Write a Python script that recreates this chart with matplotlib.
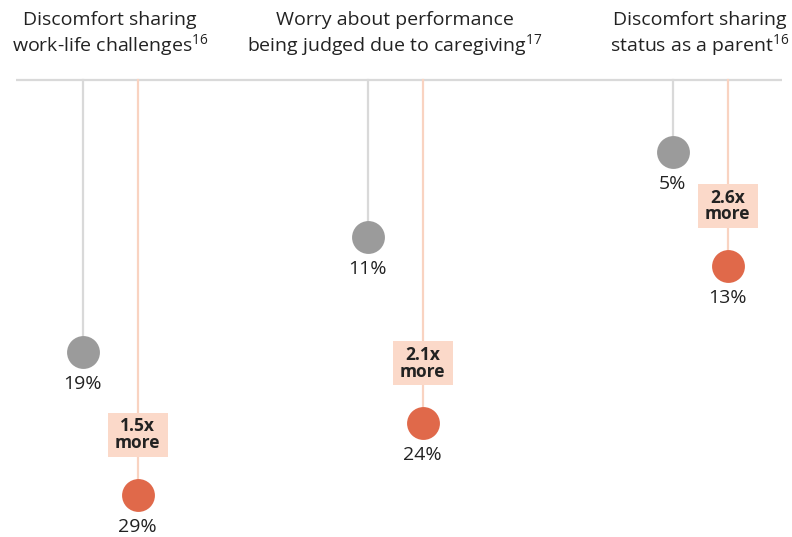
import numpy as np
import matplotlib.pyplot as plt
from matplotlib.patches import Rectangle

plt.rcParams['font.family'] = ['Open Sans', 'DejaVu Sans']
plt.rcParams['mathtext.fontset'] = 'custom'
plt.rcParams['mathtext.rm'] = 'Open Sans'

titles = ['Discomfort sharing\nwork-life challenges',
          'Worry about performance\nbeing judged due to caregiving',
          'Discomfort sharing\nstatus as a parent']
notes = ['16', '17', '16']
gray_vals = [19, 11, 5]
orange_vals = [29, 24, 13]
ratios = ['1.5x', '2.1x', '2.6x']

GRAY = '#9b9b9b'
GRAY_LINE = '#d9d9d9'
ORANGE = '#e0694a'
ORANGE_LINE = '#f9d3c1'
BADGE = '#fbd9c9'
TXT = '#222222'

W, H = 792, 537
ppu = 14.3          # pixels per percentage point
y0 = 80             # pixel row of the 0 line
centers = [110, 395, 700]
off = 27.5

fig = plt.figure(figsize=(W / 100, H / 100), dpi=100)
ax = fig.add_axes([0, 0, 1, 1])
ax.set_xlim(0, W)
ax.set_ylim((H - y0) / ppu, -y0 / ppu)
ax.axis('off')

ax.plot([16, 782], [0, 0], color=GRAY_LINE, lw=1.6, zorder=1, solid_capstyle='butt')

for i, c in enumerate(centers):
    gx, ox = c - off, c + off
    g, o = gray_vals[i], orange_vals[i]
    ax.plot([gx, gx], [0, g], color=GRAY_LINE, lw=1.6, zorder=1)
    ax.plot([ox, ox], [0, o], color=ORANGE_LINE, lw=1.6, zorder=1)
    ax.scatter([gx], [g], s=560, color=GRAY, zorder=3, linewidths=0)
    ax.scatter([ox], [o], s=560, color=ORANGE, zorder=3, linewidths=0)
    ax.text(gx, g + 32 / ppu, f'{g}%', ha='center', va='center', fontsize=14, color=TXT)
    ax.text(ox, o + 32 / ppu, f'{o}%', ha='center', va='center', fontsize=14, color=TXT)

    by = o - 60 / ppu
    bh = 44 / ppu
    ax.add_patch(Rectangle((ox - 30, by - bh / 2), 60, bh, color=BADGE, zorder=2, lw=0))
    ax.text(ox, by, ratios[i] + '\nmore', ha='center', va='center', fontsize=12.5,
            fontweight='bold', color=TXT, linespacing=0.9, zorder=4)

    l1, l2 = titles[i].split('\n')
    ax.text(c, -60 / ppu, l1, ha='center', va='center', fontsize=14, color=TXT)
    ax.text(c, -34 / ppu, l2 + r'$^{\mathrm{' + notes[i] + '}}$', ha='center', va='center',
            fontsize=14, color=TXT)

fig.savefig('out.png', dpi=100)
